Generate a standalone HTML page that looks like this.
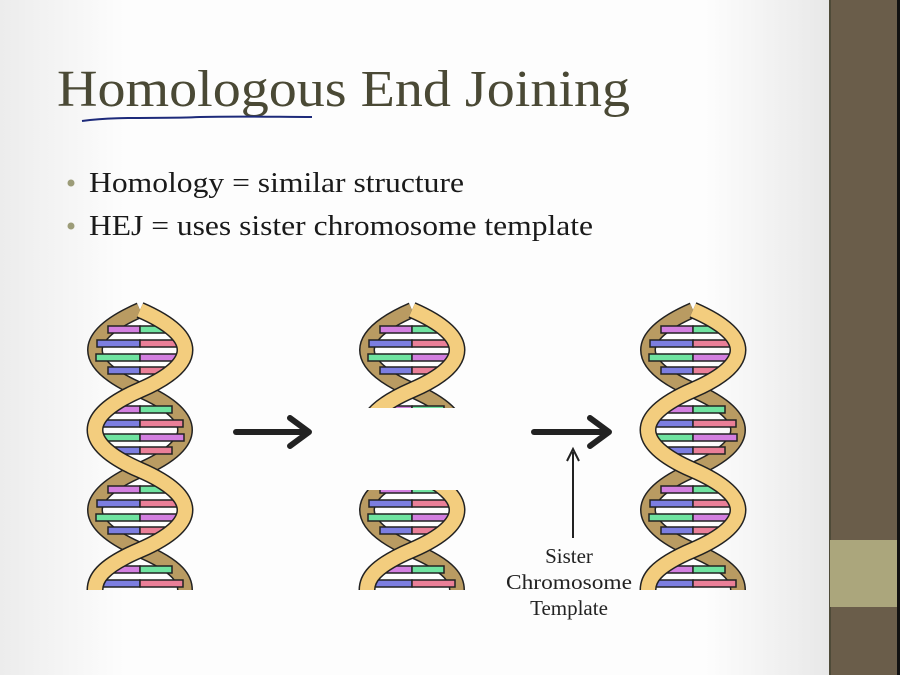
<!DOCTYPE html>
<html><head><meta charset="utf-8"><style>
html,body{margin:0;padding:0;}
body{width:900px;height:675px;overflow:hidden;background:#fff;}
</style></head><body>
<svg width="900" height="675" viewBox="0 0 900 675" xmlns="http://www.w3.org/2000/svg">
<defs>
<linearGradient id="bg" x1="0" y1="0" x2="1" y2="0">
<stop offset="0" stop-color="#ececec"/><stop offset="0.15" stop-color="#fdfdfd"/><stop offset="0.85" stop-color="#fdfdfd"/><stop offset="1" stop-color="#e8e8e8"/>
</linearGradient>
<symbol id="helix" viewBox="0 0 110 280" width="110" height="280" overflow="visible">
<path d="M55,0 C-5,26 -5,54 55,80 C115,106 115,134 55,160 C-5,186 -5,214 55,240 C95,257 100,270 100,280" fill="none" stroke="#222" stroke-width="16"/>
<path d="M55,0 C-5,26 -5,54 55,80 C115,106 115,134 55,160 C-5,186 -5,214 55,240 C95,257 100,270 100,280" fill="none" stroke="#b99b62" stroke-width="13"/>
<g stroke="#222" stroke-width="1.5">
<rect x="23" y="16" width="32" height="7" fill="#d37fe0"/><rect x="55" y="16" width="32" height="7" fill="#6fe3a0"/>
<rect x="12" y="30" width="43" height="7" fill="#7c7ee0"/><rect x="55" y="30" width="43" height="7" fill="#ea7f98"/>
<rect x="11" y="44" width="44" height="7" fill="#6fe3a0"/><rect x="55" y="44" width="44" height="7" fill="#d37fe0"/>
<rect x="23" y="57" width="32" height="7" fill="#7c7ee0"/><rect x="55" y="57" width="32" height="7" fill="#ea7f98"/>
<rect x="23" y="96" width="32" height="7" fill="#d37fe0"/><rect x="55" y="96" width="32" height="7" fill="#6fe3a0"/>
<rect x="12" y="110" width="43" height="7" fill="#7c7ee0"/><rect x="55" y="110" width="43" height="7" fill="#ea7f98"/>
<rect x="11" y="124" width="44" height="7" fill="#6fe3a0"/><rect x="55" y="124" width="44" height="7" fill="#d37fe0"/>
<rect x="23" y="137" width="32" height="7" fill="#7c7ee0"/><rect x="55" y="137" width="32" height="7" fill="#ea7f98"/>
<rect x="23" y="176" width="32" height="7" fill="#d37fe0"/><rect x="55" y="176" width="32" height="7" fill="#6fe3a0"/>
<rect x="12" y="190" width="43" height="7" fill="#7c7ee0"/><rect x="55" y="190" width="43" height="7" fill="#ea7f98"/>
<rect x="11" y="204" width="44" height="7" fill="#6fe3a0"/><rect x="55" y="204" width="44" height="7" fill="#d37fe0"/>
<rect x="23" y="217" width="32" height="7" fill="#7c7ee0"/><rect x="55" y="217" width="32" height="7" fill="#ea7f98"/>
<rect x="23" y="256" width="32" height="7" fill="#d37fe0"/><rect x="55" y="256" width="32" height="7" fill="#6fe3a0"/>
<rect x="12" y="270" width="43" height="7" fill="#7c7ee0"/><rect x="55" y="270" width="43" height="7" fill="#ea7f98"/>
</g>
<path d="M55,0 C115,26 115,54 55,80 C-5,106 -5,134 55,160 C115,186 115,214 55,240 C15,257 10,270 10,280" fill="none" stroke="#222" stroke-width="17"/>
<path d="M55,0 C115,26 115,54 55,80 C-5,106 -5,134 55,160 C115,186 115,214 55,240 C15,257 10,270 10,280" fill="none" stroke="#f3cd7e" stroke-width="14"/>
</symbol>
</defs>
<rect width="830" height="675" fill="url(#bg)"/>
<rect x="830" y="0" width="67" height="675" fill="#6a5d4a"/>
<rect x="829" y="0" width="2" height="675" fill="#4e4a38"/>
<rect x="830" y="540" width="67" height="67" fill="#aba67c"/>
<rect x="897" y="0" width="3" height="675" fill="#111"/>

<text x="57" y="106" font-family="Liberation Serif, serif" font-size="52" fill="#4a4935" textLength="573" lengthAdjust="spacingAndGlyphs">Homologous End Joining</text>
<path d="M82,121 C120,116 160,119 200,117 C240,116 280,117 312,117" stroke="#1d2a7a" stroke-width="2" fill="none"/>
<circle cx="71" cy="183" r="3.5" fill="#9c9c78"/>
<circle cx="71" cy="226" r="3.5" fill="#9c9c78"/>
<text x="89" y="192" font-family="Liberation Serif, serif" font-size="28" fill="#1a1a1a" textLength="375" lengthAdjust="spacingAndGlyphs">Homology = similar structure</text>
<text x="89" y="235" font-family="Liberation Serif, serif" font-size="28" fill="#1a1a1a" textLength="504" lengthAdjust="spacingAndGlyphs">HEJ = uses sister chromosome template</text>

<use href="#helix" x="85" y="310"/>
<use href="#helix" x="357" y="310"/>
<rect x="340" y="408" width="140" height="82" fill="#fdfdfd"/>
<use href="#helix" x="638" y="310"/>

<g stroke="#222" stroke-width="6" fill="none" stroke-linecap="round" stroke-linejoin="round">
<line x1="236" y1="432" x2="308" y2="432"/><polyline points="290,418 309,432 290,446"/>
<line x1="534" y1="432" x2="608" y2="432"/><polyline points="590,418 609,432 590,446"/>
</g>
<line x1="573" y1="538" x2="573" y2="452" stroke="#222" stroke-width="2"/>
<polyline points="567,461 573,449 579,461" stroke="#222" stroke-width="2" fill="none"/>
<g font-family="Liberation Serif, serif" font-size="21" fill="#222" text-anchor="middle">
<text x="569" y="563">Sister</text>
<text x="569" y="589" textLength="126" lengthAdjust="spacingAndGlyphs">Chromosome</text>
<text x="569" y="615">Template</text>
</g>
</svg>
</body></html>
